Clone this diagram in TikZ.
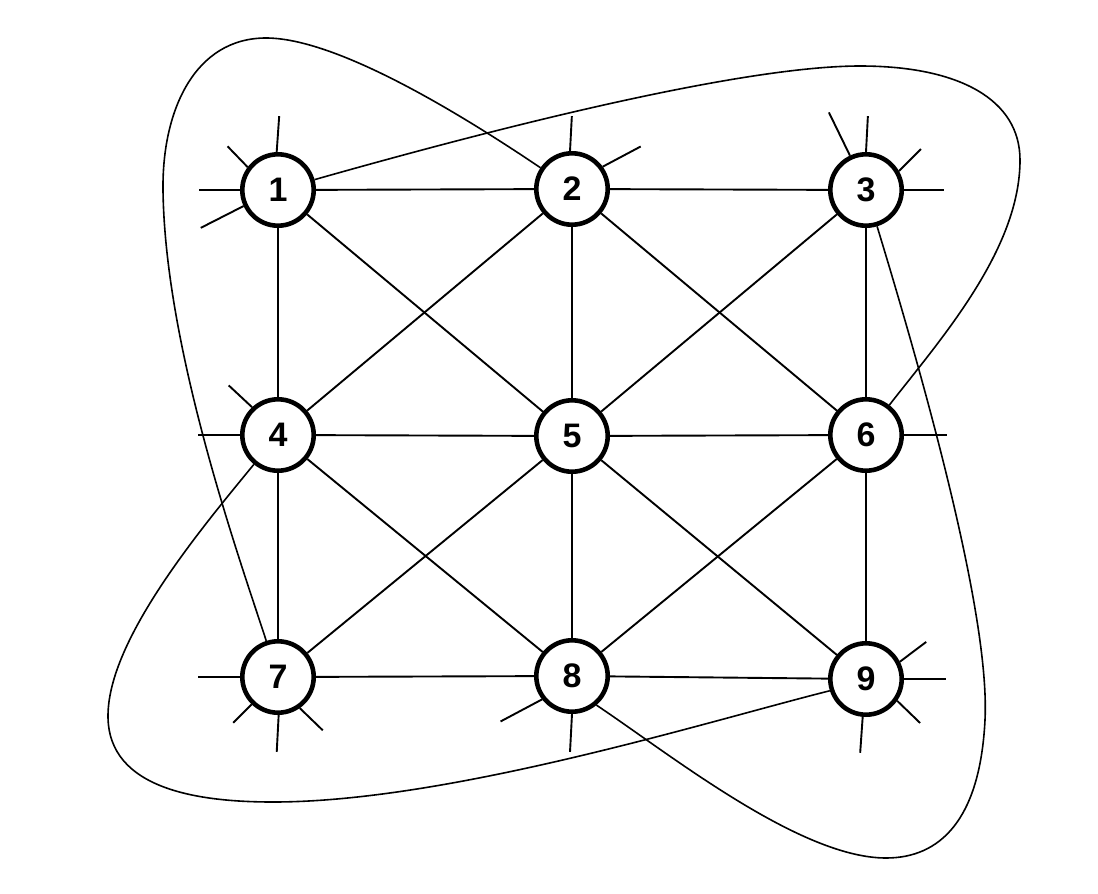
\documentclass[tikz,border=0pt]{standalone}
\usepackage{fontspec}
\setmainfont{Liberation Sans}

\begin{document}
\begin{tikzpicture}[x=0.5pt, y=-0.5pt]
\useasboundingbox (0,0) rectangle (1098,894);

\begin{scope}[every node/.style={circle, draw, line width=2.3pt, minimum size=35.7pt, inner sep=0pt, font=\fontsize{17}{17}\selectfont\bfseries}]
    \node(n1) at (278,190) {1};
    \node(n2) at (572,189) {2};
    \node(n3) at (866,190) {3};
    \node(n4) at (278,435) {4};
    \node(n5) at (572,436) {5};
    \node(n6) at (866,435) {6};
    \node(n7) at (278,677) {7};
    \node(n8) at (572,676) {8};
    \node(n9) at (866,679) {9};
\end{scope}

\begin{scope}[line width=0.95pt]
% grid and diagonals
\foreach \a/\b in {n1/n2, n2/n3, n4/n5, n5/n6, n7/n8, n8/n9, n1/n4, n4/n7, n2/n5, n5/n8, n3/n6, n6/n9,
                   n1/n5, n5/n9, n3/n5, n5/n7, n2/n4, n4/n8, n2/n6, n6/n8}
    \draw (\a) -- (\b);

% loose ends: node/anchor/direction/length
\foreach \n/\a/\d/\l in {1/92/86/18, 1/143/134/14.5, 1/180/180/20.5, 1/205/207/24,
                         2/93/87/17.5, 2/36/28/21.5,
                         3/115/116/24, 3/90/87/18, 3/30/45/15.5, 3/0/0/20,
                         4/133/137/16, 4/180/180/21,
                         6/0/0/21.5,
                         7/180/180/21, 7/226/225/13, 7/271/267/18.5, 7/305/316/16,
                         8/218/208/23.5, 8/270/267/19,
                         9/27/37/16.5, 9/0/0/21, 9/325/316/16, 9/265/266/18}
    \draw (n\n.\a) -- ++(\d:\l pt);
\end{scope}

\begin{scope}[line width=0.8pt]
\draw (n1) .. controls (560,110) and (760,66) .. (860,66)
      .. controls (960,66) and (1020,100) .. (1020,160)
      .. controls (1020,250) and (940,340) .. (n6);
\draw (n2) .. controls (440,100) and (330,38) .. (266,38)
      .. controls (195,38) and (162,110) .. (163,190)
      .. controls (165,350) and (240,560) .. (n7);
\draw (n3) .. controls (930,400) and (990,620) .. (985,720)
      .. controls (980,820) and (940,858) .. (886,858)
      .. controls (800,858) and (671,755) .. (n8.-50);
\draw (n4) .. controls (200,530) and (108,640) .. (108,716)
      .. controls (108,790) and (200,802) .. (273,802)
      .. controls (450,802) and (709,721) .. (n9.198);
\end{scope}
\end{tikzpicture}
\end{document}
